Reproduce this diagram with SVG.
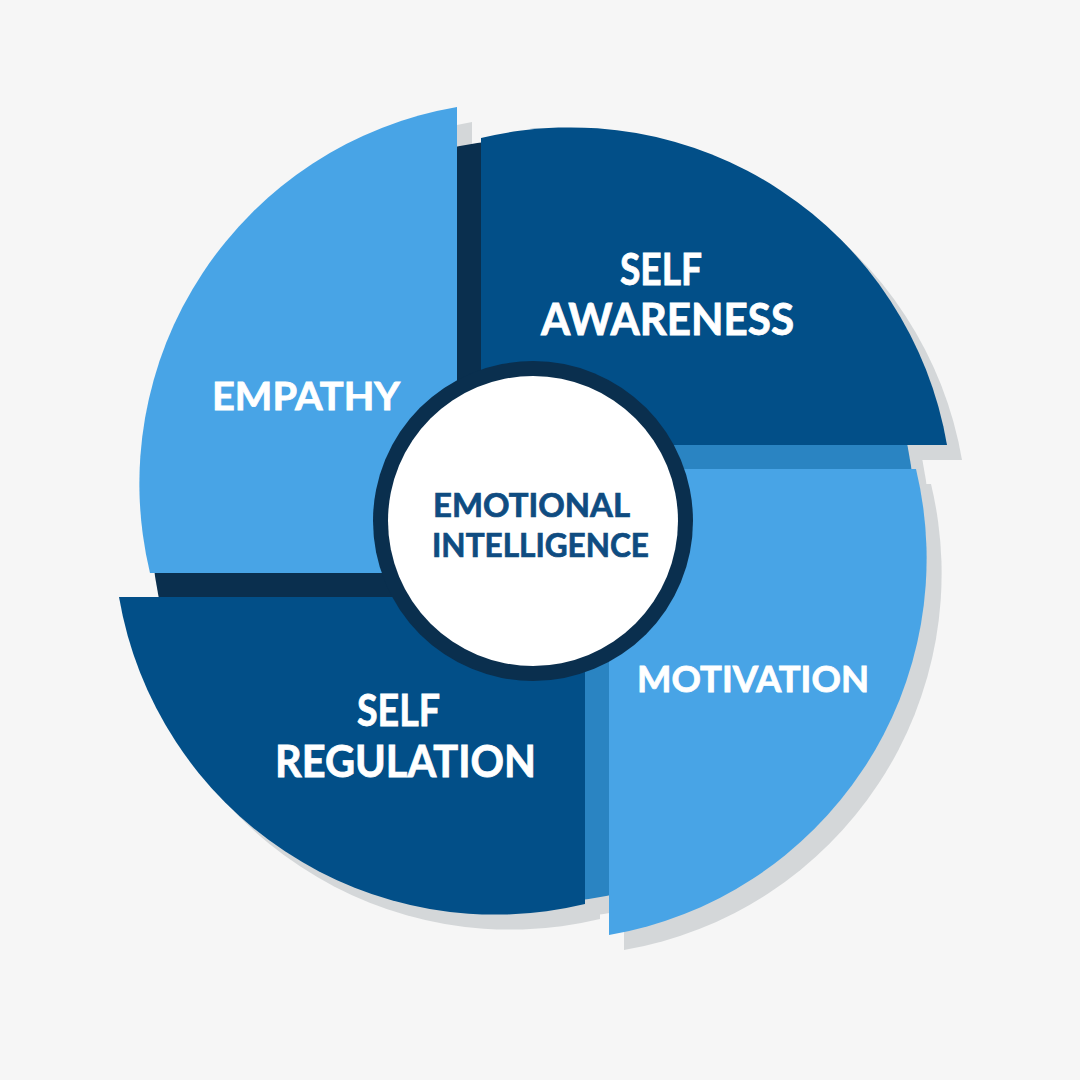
<svg xmlns="http://www.w3.org/2000/svg" width="1080" height="1080" viewBox="0 0 1080 1080">
  <style>
    .shadow { fill: #D4D7D9; }
    .light { fill: #48A4E6; }
    .dark { fill: #024F88; }
    .navy { fill: #0A2F4E; }
    .mid { fill: #2A84C2; }
    .label { font-family: Lato, "Liberation Sans", sans-serif; font-weight: 700; fill: #FFFFFF; stroke: #FFFFFF; stroke-width: 0.8px; text-anchor: middle; }
    .center { font-family: Lato, "Liberation Sans", sans-serif; font-weight: 700; fill: #0F4C81; stroke: #0F4C81; stroke-width: 0.7px; text-anchor: middle; font-size: 32px; }
  </style>
  <defs>
    <path id="empathyShape" d="M 150 573 A 382 382 0 0 1 457 107 L 457 573 Z"/>
    <path id="awarenessShape" d="M 481 138 A 382 382 0 0 1 947 445 L 481 445 Z"/>
    <path id="motivationShape" d="M 916 469 A 382 382 0 0 1 609 935 L 609 469 Z"/>
    <path id="regulationShape" d="M 585 904 A 382 382 0 0 1 119 597 L 585 597 Z"/>
  </defs>
  <rect x="0" y="0" width="1080" height="1080" fill="#F6F6F6"/>

  <g id="shadows" class="shadow" transform="translate(15 15)">
    <circle cx="533" cy="521" r="382"/>
    <use href="#empathyShape"/>
    <use href="#awarenessShape"/>
    <use href="#motivationShape"/>
    <use href="#regulationShape"/>
  </g>

  <g id="base">
    <path class="navy" d="M 533 139 A 382 382 0 0 0 533 903 Z"/>
    <path class="mid" d="M 533 139 A 382 382 0 0 1 533 903 Z"/>
  </g>

  <g id="connectors"/>

  <g id="empathy">
    <use href="#empathyShape" class="light"/>
    <text class="label" x="306" y="410" font-size="38" textLength="188" lengthAdjust="spacingAndGlyphs">EMPATHY</text>
  </g>

  <g id="self-awareness">
    <use href="#awarenessShape" class="dark"/>
    <text class="label" x="661" y="285" font-size="43" textLength="82" lengthAdjust="spacingAndGlyphs">SELF</text>
    <text class="label" x="667.5" y="335" font-size="43" textLength="253" lengthAdjust="spacingAndGlyphs">AWARENESS</text>
  </g>

  <g id="motivation">
    <use href="#motivationShape" class="light"/>
    <text class="label" x="753" y="692" font-size="36" textLength="232" lengthAdjust="spacingAndGlyphs">MOTIVATION</text>
  </g>

  <g id="self-regulation">
    <use href="#regulationShape" class="dark"/>
    <text class="label" x="398.5" y="726" font-size="43" textLength="83" lengthAdjust="spacingAndGlyphs">SELF</text>
    <text class="label" x="405.5" y="777" font-size="43" textLength="261" lengthAdjust="spacingAndGlyphs">REGULATION</text>
  </g>

  <g id="emotional-intelligence">
    <circle cx="533" cy="521" r="160" class="navy"/>
    <circle cx="533" cy="521" r="145" fill="#FFFFFF"/>
    <text class="center" x="531.5" y="517" textLength="197" lengthAdjust="spacingAndGlyphs">EMOTIONAL</text>
    <text class="center" x="540.5" y="557" textLength="217" lengthAdjust="spacingAndGlyphs">INTELLIGENCE</text>
  </g>
</svg>
